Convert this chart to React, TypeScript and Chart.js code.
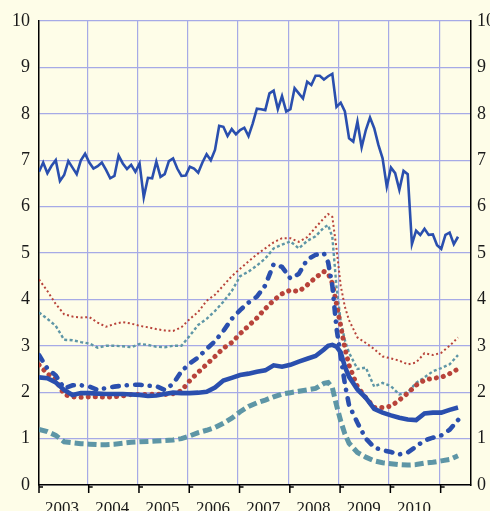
import { useEffect, useRef } from "react";
import { Chart, registerables } from "chart.js";

Chart.register(...registerables);

// ---- data ----
const yearLabels = ["2003", "2004", "2005", "2006", "2007", "2008", "2009", "2010"];
// month index (0 = first month of 2003) of year boundaries and year-label centres
const yearBoundaryMonths = [-0.5, 11.5, 23.5, 35.5, 47.5, 59.5, 71.5, 83.5, 95.5];
const yearLabelMonths = [5.5, 17.5, 29.5, 41.5, 53.5, 65.5, 77.5, 89.5];
const yTicks = [0, 1, 2, 3, 4, 5, 6, 7, 8, 9, 10];

// monthly series (thin solid blue)
const monthlyMonths = Array.from({ length: 101 }, (_, i) => i);
const seriesTopBlue = [
  6.75, 6.95, 6.72, 6.88, 7.0, 6.55, 6.68, 6.98, 6.84, 6.7, 7.0, 7.14,
  6.95, 6.82, 6.87, 6.95, 6.79, 6.61, 6.66, 7.1, 6.93, 6.81, 6.9, 6.75,
  6.93, 6.2, 6.62, 6.61, 6.97, 6.64, 6.7, 6.98, 7.04, 6.82, 6.66, 6.67,
  6.86, 6.82, 6.73, 6.95, 7.13, 7.0, 7.22, 7.74, 7.72, 7.52, 7.67, 7.56,
  7.65, 7.7, 7.52, 7.79, 8.11, 8.1, 8.08, 8.44, 8.5, 8.1, 8.38, 8.05,
  8.1, 8.55, 8.44, 8.33, 8.69, 8.62, 8.82, 8.82, 8.74, 8.81, 8.86, 8.15,
  8.24, 8.05, 7.47, 7.4, 7.83, 7.28, 7.65, 7.92, 7.69, 7.33, 7.04, 6.43,
  6.84, 6.72, 6.36, 6.77, 6.7, 5.19, 5.48, 5.39, 5.52, 5.39, 5.4, 5.17,
  5.09, 5.39, 5.44, 5.19, 5.35,
];

// smoother series, sampled at these months
const sampleMonths = [
  0, 2, 4, 6, 8, 10, 12, 14, 16, 18, 20, 22, 24, 26, 28, 30, 32, 34, 36, 38, 40, 42, 44, 46, 48,
  50, 52, 54, 56, 58, 60, 62, 64, 66, 68, 69, 70, 71, 72, 73, 74, 76, 78, 80, 82, 84, 86, 88, 90,
  92, 94, 96, 98, 100, 101,
];
const seriesThinRed = [
  4.43, 4.18, 3.9, 3.68, 3.63, 3.61, 3.62, 3.5, 3.41, 3.47, 3.51, 3.48, 3.43, 3.4, 3.36, 3.33, 3.32, 3.4, 3.58, 3.73, 3.97, 4.1, 4.3, 4.5, 4.66,
  4.82, 4.97, 5.1, 5.23, 5.32, 5.32, 5.24, 5.34, 5.55, 5.75, 5.84, 5.78, 5.1, 4.3, 3.84, 3.55, 3.18, 3.06, 2.93, 2.77, 2.73, 2.68, 2.6, 2.64,
  2.84, 2.8, 2.85, 3.0, 3.18, null,
];
const seriesThinTeal = [
  3.72, 3.58, 3.43, 3.13, 3.12, 3.08, 3.05, 2.96, 3.0, 3.0, 2.99, 2.97, 3.04, 3.02, 2.98, 2.97, 3.0, 3.0, 3.22, 3.45, 3.58, 3.75, 3.95, 4.18, 4.5,
  4.6, 4.73, 4.88, 5.1, 5.18, 5.25, 5.1, 5.26, 5.36, 5.55, 5.6, 5.35, 4.27, 3.53, 3.12, 2.85, 2.5, 2.53, 2.12, 2.2, 2.13, 1.95, 2.0, 2.2,
  2.32, 2.45, 2.52, 2.6, 2.8, null,
];
const seriesDashDotBlue = [
  2.8, 2.51, 2.36, 2.08, 2.15, 2.15, 2.12, 2.05, 2.09, 2.12, 2.14, 2.16, 2.16, 2.14, 2.13, 2.05, 2.18, 2.45, 2.62, 2.75, 2.93, 3.1, 3.32, 3.58, 3.77,
  3.93, 4.06, 4.3, 4.76, 4.7, 4.45, 4.55, 4.86, 4.96, 4.99, 4.8, 4.3, 3.38, 2.77, 2.18, 1.72, 1.34, 1.0, 0.81, 0.75, 0.71, 0.66, 0.7, 0.83,
  0.96, 1.02, 1.07, 1.19, 1.4, 1.5,
];
const seriesThickRed = [
  2.59, 2.4, 2.27, 1.95, 1.9, 1.89, 1.9, 1.9, 1.89, 1.9, 1.92, 1.95, 1.95, 1.95, 1.96, 1.95, 1.97, 2.03, 2.25, 2.43, 2.6, 2.77, 2.95, 3.07, 3.26,
  3.43, 3.6, 3.8, 3.98, 4.12, 4.2, 4.17, 4.31, 4.47, 4.6, 4.56, 4.35, 3.9, 3.43, 2.95, 2.58, 2.12, 1.88, 1.67, 1.67, 1.7, 1.83, 1.98, 2.15,
  2.26, 2.3, 2.32, 2.4, 2.5, null,
];
const seriesThickBlue = [
  2.32, 2.3, 2.21, 2.05, 1.94, 1.98, 1.98, 1.97, 1.96, 1.96, 1.96, 1.95, 1.94, 1.92, 1.93, 1.96, 1.99, 1.98, 1.98, 1.99, 2.01, 2.1, 2.25, 2.31, 2.37,
  2.4, 2.44, 2.47, 2.58, 2.55, 2.59, 2.66, 2.72, 2.78, 2.92, 3.0, 3.02, 2.98, 2.86, 2.55, 2.33, 2.06, 1.88, 1.64, 1.56, 1.5, 1.45, 1.41, 1.4,
  1.54, 1.56, 1.56, 1.62, 1.67, null,
];
const seriesThickTeal = [
  1.2, 1.15, 1.07, 0.93, 0.91, 0.89, 0.88, 0.87, 0.87, 0.88, 0.9, 0.92, 0.93, 0.94, 0.95, 0.96, 0.97, 1.0, 1.06, 1.13, 1.18, 1.24, 1.33, 1.44, 1.58,
  1.69, 1.77, 1.83, 1.9, 1.96, 1.99, 2.02, 2.05, 2.08, 2.19, 2.21, 2.1, 1.72, 1.38, 1.1, 0.9, 0.7, 0.6, 0.52, 0.48, 0.46, 0.44, 0.43, 0.44,
  0.47, 0.49, 0.52, 0.55, 0.63, null,
];

// ---- styles ----
const BG = "#FEFDE8";
const GRID = "#A6AAE6";
const BLUE = "#2A4FAE";
const RED = "#B8433A";
const TEAL = "#5E96A6";
const FONT = "'Liberation Serif', 'DejaVu Serif', serif";

const pts = (xs: number[], ys: (number | null)[]) => xs.map((x, i) => ({ x, y: ys[i] }));

const bgPlugin = {
  id: "bg",
  beforeDraw(chart: any) {
    const { ctx, width, height } = chart;
    ctx.save();
    ctx.fillStyle = BG;
    ctx.fillRect(0, 0, width, height);
    ctx.restore();
  },
};

const tickPlugin = {
  id: "yearTicks",
  afterDraw(chart: any) {
    const { ctx, chartArea } = chart;
    const xs = chart.scales.x;
    ctx.save();
    ctx.strokeStyle = "#000";
    ctx.lineWidth = 1.5;
    yearBoundaryMonths.forEach((m) => {
      const px = Math.max(xs.getPixelForValue(m) + 1.5, chartArea.left);
      ctx.beginPath();
      ctx.moveTo(px, chartArea.bottom);
      ctx.lineTo(px, chartArea.bottom + 8);
      ctx.moveTo(px, chartArea.bottom + 2);
      ctx.lineTo(px + 4, chartArea.bottom + 2);
      ctx.stroke();
    });
    ctx.restore();
  },
};

export default function App() {
  const ref = useRef<HTMLCanvasElement | null>(null);

  useEffect(() => {
    document.body.style.margin = "0";
    document.body.style.background = BG;
    const canvas = ref.current;
    if (!canvas) return;

    const base = { pointRadius: 0, tension: 0, fill: false, parsing: false as const };
    const chart = new Chart(canvas, {
      type: "line",
      data: {
        datasets: [
          { ...base, data: pts(monthlyMonths, seriesTopBlue), borderColor: BLUE, borderWidth: 2.6, order: 7 },
          { ...base, data: pts(sampleMonths, seriesThinRed), borderColor: RED, borderWidth: 2, borderDash: [2, 2.6], order: 6 },
          { ...base, data: pts(sampleMonths, seriesThinTeal), borderColor: TEAL, borderWidth: 2.4, borderDash: [3, 2.4], order: 5 },
          { ...base, data: pts(sampleMonths, seriesThickTeal), borderColor: TEAL, borderWidth: 5, borderDash: [9, 4], order: 4 },
          { ...base, data: pts(sampleMonths, seriesThickRed), borderColor: RED, borderWidth: 5, borderDash: [0.1, 7], borderCapStyle: "round", order: 3 },
          { ...base, data: pts(sampleMonths, seriesDashDotBlue), borderColor: BLUE, borderWidth: 4.6, borderDash: [6.5, 8, 0.1, 8.4], borderCapStyle: "round", order: 2 },
          { ...base, data: pts(sampleMonths, seriesThickBlue), borderColor: BLUE, borderWidth: 4.6, order: 1 },
        ],
      },
      options: {
        animation: false,
        responsive: false,
        events: [],
        layout: { padding: { top: 21, left: 0, right: 0, bottom: 0 } },
        plugins: { legend: { display: false }, tooltip: { enabled: false }, title: { display: false } },
        scales: {
          x: {
            type: "linear",
            position: "bottom",
            min: 0,
            max: 103.1,
            afterBuildTicks: (s: any) => {
              s.ticks = yearBoundaryMonths.slice(1).map((v) => ({ value: v }));
            },
            ticks: { display: false },
            grid: { color: GRID, lineWidth: 1.2, drawTicks: false },
            border: { display: true, color: "#000", width: 1.5 },
            afterFit: (s: any) => {
              s.height = 3;
            },
          },
          x2: {
            type: "linear",
            position: "bottom",
            min: 0,
            max: 103.1,
            afterBuildTicks: (s: any) => {
              s.ticks = yearLabelMonths.map((v) => ({ value: v }));
            },
            ticks: {
              autoSkip: false,
              maxRotation: 0,
              padding: 2,
              color: "#1a1a1a",
              font: { family: FONT, size: 17 },
              callback: (_v: any, i: number) => yearLabels[i],
            },
            grid: { display: false },
            border: { display: false },
            afterFit: (s: any) => {
              s.height = 23;
            },
          },
          y: {
            min: 0,
            max: 10,
            afterBuildTicks: (s: any) => {
              s.ticks = yTicks.map((v) => ({ value: v }));
            },
            ticks: { padding: 9, color: "#1a1a1a", font: { family: FONT, size: 18 } },
            grid: { color: GRID, lineWidth: 1.2, drawTicks: false },
            border: { display: true, color: "#000", width: 1.5 },
            afterFit: (s: any) => {
              s.width = 39;
            },
          },
          y2: {
            position: "right",
            min: 0,
            max: 10,
            afterBuildTicks: (s: any) => {
              s.ticks = yTicks.map((v) => ({ value: v }));
            },
            ticks: { padding: 6, color: "#1a1a1a", font: { family: FONT, size: 18 } },
            grid: { display: false, drawTicks: false },
            border: { display: true, color: "#000", width: 1.5 },
            afterFit: (s: any) => {
              s.width = 19;
            },
          },
        },
      } as any,
      plugins: [bgPlugin, tickPlugin],
    });
    return () => chart.destroy();
  }, []);

  return (
    <div style={{ width: 490, height: 511, background: BG }}>
      <canvas ref={ref} width={490} height={511} style={{ display: "block" }} />
    </div>
  );
}
